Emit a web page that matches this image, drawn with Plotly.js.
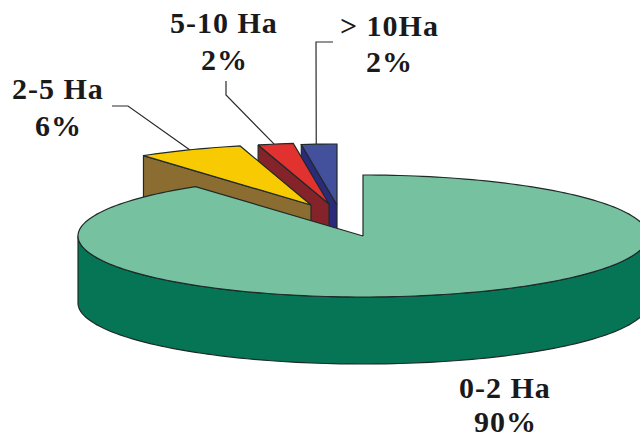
<!DOCTYPE html>
<html>
<head>
<meta charset="utf-8">
<script src="https://cdn.plot.ly/plotly-3.0.1.min.js"></script>
<style>
html,body{margin:0;padding:0;background:#fff}
#chart{width:640px;height:437px}
.annotation-text{letter-spacing:1px}
</style>
</head>
<body>
<div id="chart"></div>
<script>
// Farm size classes and their share of holdings
const categories = ['0-2 Ha', '2-5 Ha', '5-10 Ha', '> 10Ha'];
const shares = [90, 6, 2, 2];

// Colours of each slice: top face and side wall
const topColors = ['#76c2a0', '#f8ca02', '#e2322f', '#43509c'];
const wallColors = ['#067555', '#8c6d31', '#84242a', '#2b2a7b'];

// Pie projection
const cx = 363, cy = 236, rx = 285, ry = 61, depth = 67;
const outline = '#1f2a28';

// How far each slice is pulled out of the pie
const pullX = [0, -52, -34, -26];
const pullY = [0, -31, -32, -31];

// Label anchors for the two text lines of each slice
const labelX = [505, 58, 224, 389];
const labelY = [387, 88, 22, 25];
const percentY = [421, 125, 59, 61];

// Leader line start, elbow, and where along the slice rim it lands
const leaderStartX = [null, 112, 226, 333];
const leaderStartY = [null, 106, 81, 42];
const leaderElbowX = [null, 128, 226, 316];
const leaderElbowY = [null, 106, 95, 42];
const leaderRimAt = [null, 0.5, 0.46, 0.42];

const total = shares.reduce((a, b) => a + b, 0);
const startAngle = [];
shares.reduce((sum, v, i) => { startAngle[i] = sum / total * 360; return sum + v; }, 0);
const endAngle = shares.map((v, i) => startAngle[i] + v / total * 360);

function rim(deg, i, drop) {
  const t = deg * Math.PI / 180;
  return [cx + pullX[i] + rx * Math.sin(t), cy + pullY[i] - ry * Math.cos(t) + (drop || 0)];
}
function arc(from, to, i, drop) {
  const n = Math.max(2, Math.ceil(Math.abs(to - from) / 1.5));
  const pts = [];
  for (let k = 0; k <= n; k++) pts.push(rim(from + (to - from) * k / n, i, drop));
  return pts;
}
function poly(pts, fill, name) {
  return {
    type: 'scatter', mode: 'lines', name: name, hoverinfo: 'name',
    x: pts.map(p => p[0]), y: pts.map(p => p[1]),
    fill: 'toself', fillcolor: fill,
    line: {color: outline, width: 1.2, simplify: false}
  };
}

const traces = [];

// Pulled-out slices, back to front: wall along the first edge, then top face
for (let i = shares.length - 1; i >= 1; i--) {
  const ax = cx + pullX[i], ay = cy + pullY[i];
  const edge = rim(startAngle[i], i);
  traces.push(poly([[ax, ay], edge, [edge[0], edge[1] + depth], [ax, ay + depth], [ax, ay]], wallColors[i], categories[i]));
  traces.push(poly([[ax, ay], ...arc(startAngle[i], endAngle[i], i), [ax, ay]], topColors[i], categories[i]));
}

// Main slice: the front wall, then the top face over everything behind it
const front = arc(90, 270, 0);
const frontLow = arc(270, 90, 0, depth);
traces.push(poly([...front, ...frontLow, front[0]], wallColors[0], categories[0]));
traces.push(poly([[cx, cy], ...arc(startAngle[0], endAngle[0], 0), [cx, cy]], topColors[0], categories[0]));

// Leader lines from the labels to each slice's rim
const shapes = [];
for (let i = 1; i < shares.length; i++) {
  const end = rim(startAngle[i] + (endAngle[i] - startAngle[i]) * leaderRimAt[i], i);
  shapes.push({
    type: 'path', xref: 'x', yref: 'y',
    path: `M${leaderStartX[i]},${leaderStartY[i]} L${leaderElbowX[i]},${leaderElbowY[i]} L${end[0]},${end[1]}`,
    line: {color: '#2a2a2a', width: 1.2}
  });
}

const labelFont = {family: '"Liberation Serif", serif', size: 30, weight: 700, color: '#1a1a1a'};
const annotations = [];
categories.forEach((c, i) => {
  annotations.push({x: labelX[i], y: labelY[i], xref: 'x', yref: 'y', text: c.replace(' ', '\u00a0'), showarrow: false, font: labelFont, xanchor: 'center', yanchor: 'middle'});
  annotations.push({x: labelX[i], y: percentY[i], xref: 'x', yref: 'y', text: shares[i] + '%', showarrow: false, font: labelFont, xanchor: 'center', yanchor: 'middle'});
});

Plotly.newPlot('chart', traces, {
  width: 640, height: 437,
  margin: {l: 0, r: 0, t: 0, b: 0},
  paper_bgcolor: '#fff', plot_bgcolor: '#fff',
  showlegend: false,
  xaxis: {range: [0, 640], visible: false, fixedrange: true},
  yaxis: {range: [437, 0], visible: false, fixedrange: true},
  shapes: shapes,
  annotations: annotations
}, {displayModeBar: false, staticPlot: true});
</script>
</body>
</html>
